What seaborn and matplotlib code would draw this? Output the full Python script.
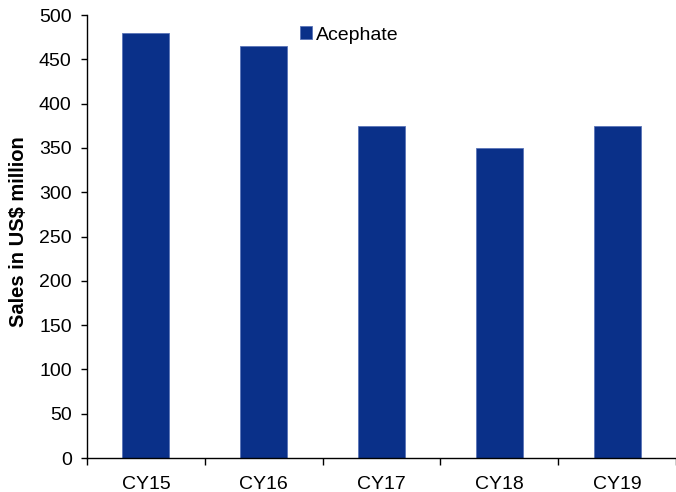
import matplotlib
matplotlib.use("Agg")
import matplotlib.pyplot as plt
import seaborn as sns
import numpy as np

years = ["CY15", "CY16", "CY17", "CY18", "CY19"]
sales = [480, 465, 375, 350, 375]
series_name = "Acephate"
y_ticks = list(range(0, 501, 50))

sns.set_style("white")
plt.rcParams["font.family"] = ["Liberation Sans", "DejaVu Sans"]
plt.rcParams["text.color"] = "black"
plt.rcParams["axes.labelcolor"] = "black"
plt.rcParams["xtick.color"] = "black"
plt.rcParams["ytick.color"] = "black"

fig = plt.figure(figsize=(6.76, 4.92), dpi=100)
ax = fig.add_axes([0.1287, 0.0691, 0.8713, 0.9004])

bar_color = "#0a3089"
sns.barplot(x=years, y=sales, color=bar_color, width=0.4, ax=ax,
            label=series_name, edgecolor="#5a74b8", linewidth=0.6,
            saturation=1)

ax.set_xlim(-0.5, len(years) - 0.5)
ax.set_ylim(0, 500)
ax.set_yticks(y_ticks)
ax.tick_params(axis="y", direction="out", length=4.5, width=1, labelsize=14,
               labelcolor="black", left=True, pad=6.5)
ax.tick_params(axis="x", which="major", length=0, labelsize=14,
               labelcolor="black", pad=13)
ax.set_xticks(np.arange(-0.5, len(years), 1.0), minor=True)
ax.tick_params(axis="x", which="minor", direction="out", length=5, width=1,
               bottom=True)

for side in ["top", "right"]:
    ax.spines[side].set_visible(False)
for side in ["left", "bottom"]:
    ax.spines[side].set_color("black")
    ax.spines[side].set_linewidth(1)

ax.set_xlabel("")
ax.set_ylabel("Sales in US$ million", fontsize=14.5, fontweight="bold",
              color="black")
ax.yaxis.set_label_coords(-0.1, 0.512)

ax.legend(loc="upper left", bbox_to_anchor=(0.339, 1.005), frameon=False,
          handlelength=0.62, handleheight=0.62, handletextpad=0.2,
          fontsize=14, borderaxespad=0.3)

fig.savefig("out.png", dpi=100)
